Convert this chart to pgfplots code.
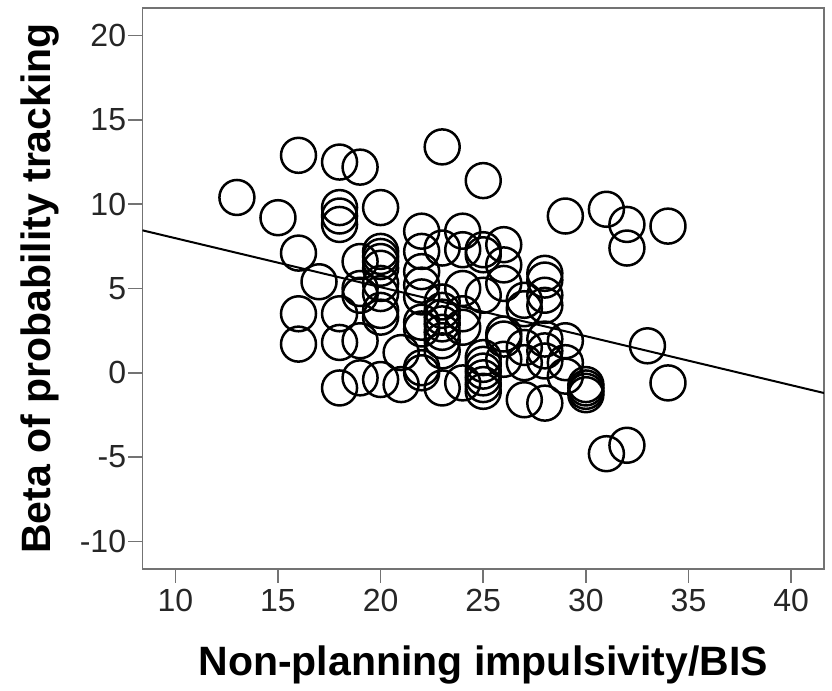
\documentclass[border=0pt]{standalone}
\usepackage{fontspec}
\setmainfont{Liberation Sans}
\usepackage{pgfplots}
\usepackage{pgfplotstable}
\pgfplotsset{compat=1.18}

% BIS non-planning score vs beta
\pgfplotstableread{
x y
13 10.4
15 9.2
16 12.9
16 7.1
16 3.5
16 1.7
17 5.4
18 12.5
18 9.8
18 9.3
18 8.8
18 3.5
18 1.8
18 -0.9
19 12.2
19 6.6
19 5.0
19 4.6
19 1.9
19 -0.3
20 9.8
20 7.2
20 6.9
20 6.6
20 6.2
20 5.3
20 4.7
20 3.7
20 3.3
20 -0.4
21 1.2
21 -0.7
22 8.4
22 7.2
22 6.0
22 5.2
22 4.5
22 3.0
22 2.6
22 0.3
22 0.0
23 13.4
23 7.4
23 4.2
23 3.7
23 3.3
23 2.9
23 2.4
23 1.9
23 1.3
23 -0.9
24 8.4
24 7.3
24 5.0
24 3.5
24 2.7
24 -0.6
25 11.4
25 7.3
25 7.0
25 4.6
25 0.9
25 0.5
25 0.1
25 -0.3
25 -0.7
25 -1.1
26 7.6
26 6.4
26 5.3
26 2.3
26 2.0
26 0.8
27 4.3
27 3.8
27 1.5
27 0.6
27 -1.6
28 5.9
28 5.5
28 4.6
28 4.0
28 2.0
28 1.3
28 0.7
28 -1.8
29 9.3
29 1.9
29 0.6
29 -0.2
30 -0.7
30 -0.9
30 -1.1
30 -1.3
31 9.7
31 -4.8
32 8.8
32 7.4
32 -4.3
33 1.6
34 8.7
34 -0.6
}\bistable

\begin{document}
\begin{tikzpicture}
\useasboundingbox (-71.25pt,-61pt) rectangle (344.75pt,284.5pt);
\begin{axis}[
  scale only axis, width=340.75pt, height=280.5pt,
  xmin=8.4, xmax=41.6, ymin=-11.64, ymax=21.64,
  xtick={10,15,...,40}, ytick={-10,-5,...,20},
  tick align=outside, major tick length=7pt, tick pos=left,
  axis line style={draw=black!55, line width=0.8pt},
  tick style={draw=black!55, line width=0.8pt},
  tick label style={font=\fontsize{16}{16}\selectfont, text=black!85},
  yticklabel style={inner xsep=1pt},
  xticklabel style={inner ysep=3pt},
  /pgf/number format/assume math mode=true,
  xlabel={Non-planning impulsivity/BIS},
  ylabel={Beta of probability tracking},
  label style={font=\fontsize{20.5}{20.5}\selectfont\bfseries},
  xlabel style={at={(axis description cs:0.5,-0.1711)}, anchor=center},
  ylabel style={at={(axis description cs:-0.1497,0.5)}, anchor=center},
]
\addplot[only marks, mark=o, mark size=8.75pt, mark options={line width=1.25pt, draw=black}] table {\bistable};
\addplot[black, line width=1pt] coordinates {(8.4,8.45) (41.6,-1.20)};
\end{axis}
\end{tikzpicture}
\end{document}
